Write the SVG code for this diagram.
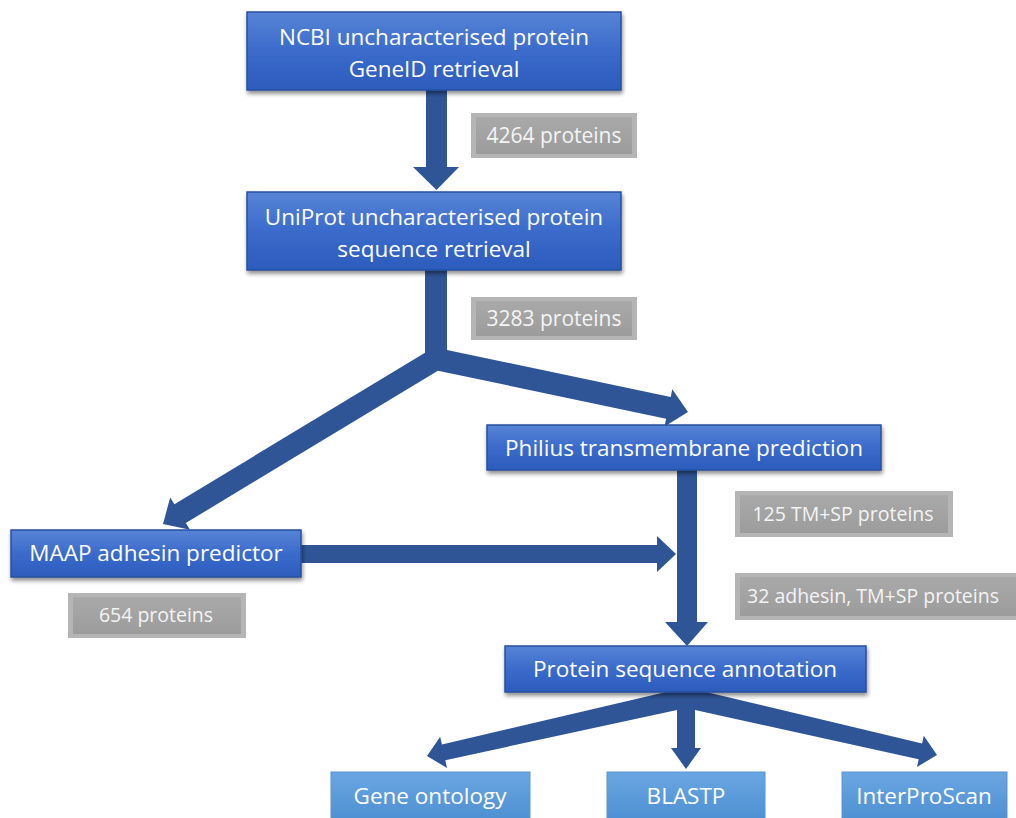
<svg xmlns="http://www.w3.org/2000/svg" width="1016" height="818" viewBox="0 0 1016 818">
  <defs>
    <linearGradient id="gBlue" x1="0" y1="0" x2="0" y2="1">
      <stop offset="0" stop-color="#5784d6"/>
      <stop offset="0.5" stop-color="#3b6bcb"/>
      <stop offset="1" stop-color="#2c5cbd"/>
    </linearGradient>
    <linearGradient id="gLight" x1="0" y1="0" x2="0" y2="1">
      <stop offset="0" stop-color="#6aa6e2"/>
      <stop offset="1" stop-color="#4d8fd2"/>
    </linearGradient>
    <linearGradient id="gGray" x1="0" y1="0" x2="0" y2="1">
      <stop offset="0" stop-color="#a9a9a9"/>
      <stop offset="1" stop-color="#9c9c9c"/>
    </linearGradient>
    <filter id="shadow" x="-10%" y="-20%" width="120%" height="150%">
      <feGaussianBlur in="SourceAlpha" stdDeviation="2"/>
      <feOffset dx="1" dy="3" result="b"/>
      <feComponentTransfer><feFuncA type="linear" slope="0.45"/></feComponentTransfer>
      <feMerge><feMergeNode/><feMergeNode in="SourceGraphic"/></feMerge>
    </filter>
  </defs>
  <style>
    .box { fill: url(#gBlue); stroke: #274f9e; stroke-width: 1.5; filter: url(#shadow); }
    .lbox { fill: url(#gLight); stroke: #5b96d0; stroke-width: 1; }
    .gout { fill: #b5b5b5; }
    .gin { fill: url(#gGray); }
    .t { font-family: "Open Sans", "Liberation Sans", sans-serif; font-size: 22.5px; fill: #ffffff; text-anchor: middle; }
    .gt { font-family: "Open Sans", "Liberation Sans", sans-serif; font-size: 19.5px; fill: #f4f4f4; text-anchor: middle; }
    .arrow { fill: #2f5597; }
  </style>
  <rect width="1016" height="818" fill="#ffffff"/>

  <g id="connectors">
    <polygon class="arrow" points="426,90 447,90 447,167 459,167 436.5,190 413,167 426,167"/>
    <polygon class="arrow" points="425,270 447,270 447,350 670.7,397.1 672.3,389.3 688,412 664.5,426.5 666.1,418.7 437.9,370.7 185.8,523 190,529.8 163,524 170.2,497.4 174.4,504.2 425,352.8"/>
    <polygon class="arrow" points="677,470 697,470 697,622 708,622 687,646 665,622 677,622"/>
    <polygon class="arrow" points="301,545 657,545 657,536 676,554 657,572 657,563 301,563"/>
    <polygon class="arrow" points="666,692 441.9,744.6 440.2,736.8 427,756 447,768 445.3,760.2 677,710 677,748 671,748 686,769 701,748 695,748 695,710 918.7,759.2 917,767 937,755 923.8,735.8 922.1,743.6 706,692"/>
  </g>

  <g id="label-4264">
    <rect class="gout" x="471" y="113" width="166" height="45"/>
    <rect class="gin" x="476" y="117" width="156" height="37"/>
    <text class="gt" x="554" y="143" style="font-size:21px">4264 proteins</text>
  </g>
  <g id="label-3283">
    <rect class="gout" x="471" y="297" width="166" height="43"/>
    <rect class="gin" x="476" y="301" width="156" height="35"/>
    <text class="gt" x="554" y="326" style="font-size:21px">3283 proteins</text>
  </g>
  <g id="label-125">
    <rect class="gout" x="735" y="491" width="218" height="46"/>
    <rect class="gin" x="740" y="495" width="208" height="38"/>
    <text class="gt" x="843" y="521">125 TM+SP proteins</text>
  </g>
  <g id="label-32">
    <rect class="gout" x="735" y="573" width="290" height="47"/>
    <rect class="gin" x="740" y="577" width="280" height="39"/>
    <text class="gt" x="873" y="603">32 adhesin, TM+SP proteins</text>
  </g>
  <g id="label-654">
    <rect class="gout" x="68" y="593" width="178" height="45"/>
    <rect class="gin" x="73" y="597" width="168" height="37"/>
    <text class="gt" x="156" y="622">654 proteins</text>
  </g>

  <g id="node-ncbi">
    <rect class="box" x="247" y="12" width="374" height="78"/>
    <text class="t" x="434" y="45">NCBI uncharacterised protein</text>
    <text class="t" x="434" y="77">GeneID retrieval</text>
  </g>
  <g id="node-uniprot">
    <rect class="box" x="247" y="192" width="374" height="78"/>
    <text class="t" x="434" y="225">UniProt uncharacterised protein</text>
    <text class="t" x="434" y="257">sequence retrieval</text>
  </g>
  <g id="node-philius">
    <rect class="box" x="487" y="425" width="394" height="45"/>
    <text class="t" x="684" y="456">Philius transmembrane prediction</text>
  </g>
  <g id="node-maap">
    <rect class="box" x="11" y="530" width="290" height="47"/>
    <text class="t" x="156" y="561">MAAP adhesin predictor</text>
  </g>
  <g id="node-annotation">
    <rect class="box" x="505" y="646" width="361" height="46"/>
    <text class="t" x="685" y="677">Protein sequence annotation</text>
  </g>
  <g id="node-go">
    <rect class="lbox" x="331" y="772" width="199" height="50"/>
    <text class="t" x="430" y="804">Gene ontology</text>
  </g>
  <g id="node-blastp">
    <rect class="lbox" x="607" y="772" width="158" height="50"/>
    <text class="t" x="686" y="804">BLASTP</text>
  </g>
  <g id="node-interpro">
    <rect class="lbox" x="842" y="772" width="165" height="50"/>
    <text class="t" x="924" y="804">InterProScan</text>
  </g>
</svg>
